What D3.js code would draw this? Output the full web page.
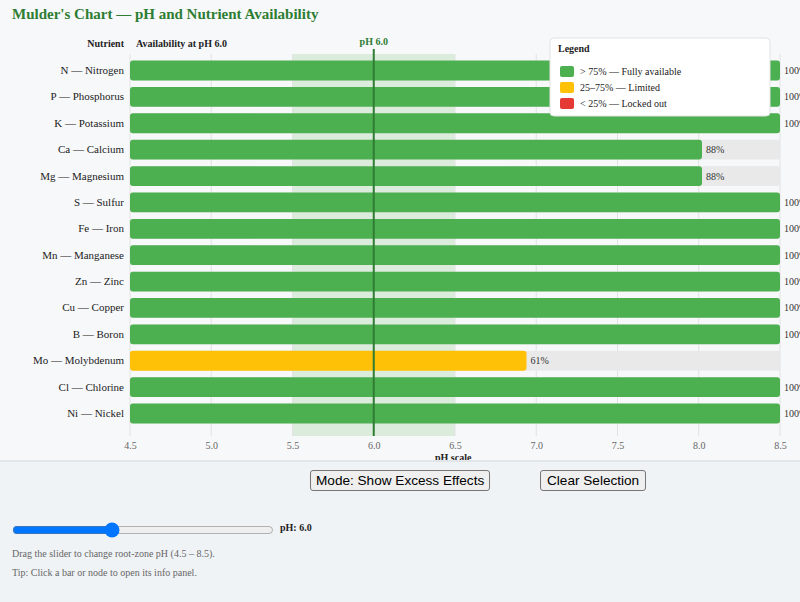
<!DOCTYPE html>
<html>
<head>
<meta charset="utf-8">
<script src="https://cdn.jsdelivr.net/npm/d3@7"></script>
<style>
body { margin:0; background:#f7f8fa; font-family:"Liberation Serif","Times New Roman",serif; }
#chart { display:block; }
#controls { position:relative; height:140px; background:#eff3f6; border-top:2px solid #e2e6ea; }
#controls button { position:absolute; top:8px; font-family:"Liberation Sans",Arial,sans-serif; font-size:13.6px; padding:1px 5px; height:21px; background:#efefef; border:1px solid #767676; border-radius:3px; color:#000; }
#slider { position:absolute; left:12px; top:60px; width:262px; margin:0; accent-color:#0075ff; }
#phlabel { position:absolute; left:280px; top:60px; font-size:10px; font-weight:bold; color:#222; }
.note { position:absolute; left:12px; font-size:10px; color:#666; }
</style>
</head>
<body>
<svg id="chart" width="800" height="460"></svg>
<div id="controls">
  <button style="left:310px">Mode: Show Excess Effects</button>
  <button style="left:540px; padding:1px 6px">Clear Selection</button>
  <input id="slider" type="range" min="4.5" max="8.5" step="0.1" value="6.0">
  <span id="phlabel">pH: 6.0</span>
  <div class="note" style="top:86px">Drag the slider to change root-zone pH (4.5 – 8.5).</div>
  <div class="note" style="top:105px">Tip: Click a bar or node to open its info panel.</div>
</div>
<script>
var ph = 6.0;
var nutrients = ["N — Nitrogen","P — Phosphorus","K — Potassium","Ca — Calcium","Mg — Magnesium","S — Sulfur","Fe — Iron","Mn — Manganese","Zn — Zinc","Cu — Copper","B — Boron","Mo — Molybdenum","Cl — Chlorine","Ni — Nickel"];
var availability = [100,100,100,88,88,100,100,100,100,100,100,61,100,100];
var phTicks = [4.5,5.0,5.5,6.0,6.5,7.0,7.5,8.0,8.5];
var optimalRange = [5.5,6.5];
var legendLabels = ["> 75% — Fully available","25–75% — Limited","< 25% — Locked out"];
var legendColors = ["#4caf50","#ffc107","#e53935"];

var svg = d3.select("#chart");
var plotLeft = 130, plotRight = 780, plotTop = 54, plotBottom = 430;

function colorFor(v){
	if(v>75) return legendColors[0];
	if(v>=25) return legendColors[1];
	return legendColors[2];
}

var xph = d3.scaleLinear().domain([4.5,8.5]).range([plotLeft,plotRight]);
var xpct = d3.scaleLinear().domain([0,100]).range([plotLeft,plotRight]);
var y = d3.scaleBand().domain(nutrients).range([plotTop,plotBottom]).padding(0.25);

svg.append("text")
	.attr("x",12).attr("y",19)
	.style("font-size","15px").style("font-weight","bold").style("fill","#2e7d32")
	.text("Mulder's Chart — pH and Nutrient Availability");

// optimal shading
svg.append("rect")
	.attr("x",xph(optimalRange[0])).attr("y",plotTop)
	.attr("width",xph(optimalRange[1])-xph(optimalRange[0]))
	.attr("height",plotBottom-plotTop+6)
	.style("fill","#dcecdc");

// grid
svg.selectAll(".grid").data(phTicks)
	.enter().append("line")
	.attr("class","grid")
	.attr("x1",d=>xph(d)).attr("x2",d=>xph(d))
	.attr("y1",plotTop).attr("y2",plotBottom+6)
	.style("stroke","#e2e2e2").style("stroke-width",1);

// tracks
svg.selectAll(".track").data(nutrients)
	.enter().append("rect")
	.attr("class","track")
	.attr("x",plotLeft).attr("y",d=>y(d))
	.attr("width",plotRight-plotLeft).attr("height",y.bandwidth())
	.style("fill","#e9e9e9");

// bars
svg.selectAll(".bar").data(availability)
	.enter().append("rect")
	.attr("class","bar")
	.attr("x",plotLeft).attr("y",(d,i)=>y(nutrients[i]))
	.attr("width",d=>xpct(d)-plotLeft).attr("height",y.bandwidth())
	.attr("rx",3)
	.style("fill",d=>colorFor(d));

svg.selectAll(".val").data(availability)
	.enter().append("text")
	.attr("class","val")
	.attr("x",d=>xpct(d)+4).attr("y",(d,i)=>y(nutrients[i])+y.bandwidth()/2+3.5)
	.style("font-size","10px").style("fill","#333")
	.text(d=>d+"%");

svg.selectAll(".name").data(nutrients)
	.enter().append("text")
	.attr("class","name")
	.attr("x",plotLeft-6).attr("y",d=>y(d)+y.bandwidth()/2+3.5)
	.attr("text-anchor","end")
	.style("font-size","11px").style("fill","#222")
	.text(d=>d);

// headers
svg.append("text").attr("x",plotLeft-6).attr("y",47).attr("text-anchor","end")
	.style("font-size","10px").style("font-weight","bold").style("fill","#222").text("Nutrient");
svg.append("text").attr("x",plotLeft+6).attr("y",47)
	.style("font-size","10px").style("font-weight","bold").style("fill","#222").text("Availability at pH "+ph.toFixed(1));

// pH marker
svg.append("line")
	.attr("x1",xph(ph)).attr("x2",xph(ph))
	.attr("y1",49).attr("y2",plotBottom+6)
	.style("stroke","#2e7d32").style("stroke-width",2);
svg.append("text").attr("x",xph(ph)).attr("y",45).attr("text-anchor","middle")
	.style("font-size","10px").style("font-weight","bold").style("fill","#2e7d32")
	.text("pH "+ph.toFixed(1));

// axis
var axis = svg.append("g").attr("transform","translate(0,"+(plotBottom+4)+")")
	.call(d3.axisBottom(xph).tickValues(phTicks).tickFormat(d3.format(".1f")).tickSize(0).tickPadding(8));
axis.select(".domain").remove();
axis.selectAll("text").style("font-family","'Liberation Serif','Times New Roman',serif").style("font-size","10px").style("fill","#666");
svg.append("text").attr("x",xph(optimalRange[1])-20).attr("y",461)
	.style("font-size","10px").style("font-weight","bold").style("fill","#222").text("pH scale");

// legend
var lg = svg.append("g").attr("transform","translate(550,38)");
lg.append("rect").attr("width",220).attr("height",78).attr("rx",4)
	.style("fill","#fff").style("stroke","#e3e3e3");
lg.append("text").attr("x",8).attr("y",14)
	.style("font-size","10px").style("font-weight","bold").style("fill","#222").text("Legend");
var items = lg.selectAll(".item").data(legendLabels).enter().append("g")
	.attr("transform",(d,i)=>"translate(10,"+(28+i*16)+")");
items.append("rect").attr("width",14).attr("height",11).attr("rx",2)
	.style("fill",(d,i)=>legendColors[i]);
items.append("text").attr("x",20).attr("y",9)
	.style("font-size","10px").style("fill","#222").text(d=>d);
</script>
</body>
</html>
